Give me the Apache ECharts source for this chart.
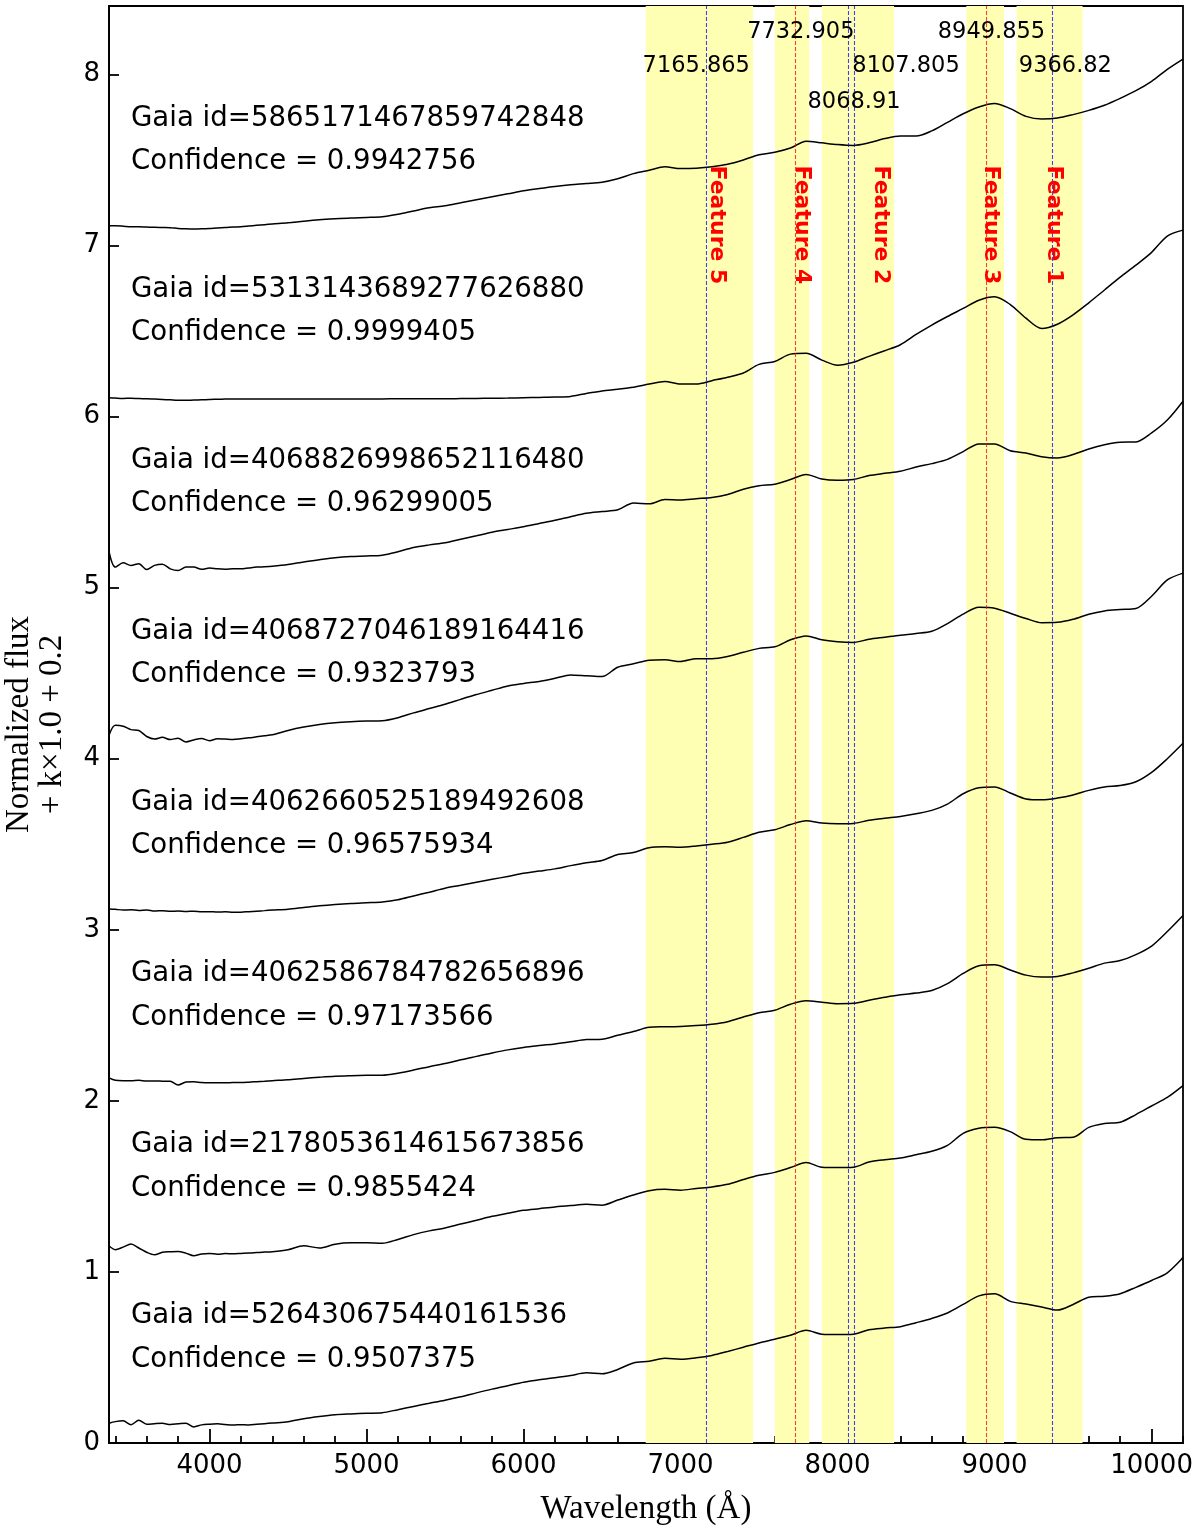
<!DOCTYPE html>
<html>
<head>
<meta charset="utf-8">
<title>Gaia XP spectra</title>
<script src="https://cdn.jsdelivr.net/npm/echarts@6/dist/echarts.min.js"></script>
<style>
  html, body { margin: 0; padding: 0; background: #fff; }
  #chart { width: 1200px; height: 1532px; }
</style>
</head>
<body>
<div id="chart"></div>
<script>
// wavelength grid (Angstrom), shared by all spectra
var waveGrid = [3360, 3400, 3450, 3500, 3550, 3600, 3650, 3700, 3750, 3800, 3850, 3900, 3950,
  4000, 4050, 4100, 4150, 4200, 4250, 4300, 4350, 4400,
  4500, 4600, 4700, 4800, 4900, 5000, 5100, 5200, 5300, 5400,
  5500, 5600, 5700, 5800, 5900, 6000, 6100, 6200, 6300, 6400,
  6500, 6600, 6700, 6800, 6900, 7000, 7100, 7200, 7300, 7400,
  7500, 7600, 7700, 7800, 7900, 8000, 8100, 8200, 8300, 8400,
  8500, 8600, 8700, 8800, 8900, 9000, 9100, 9200, 9300, 9400,
  9500, 9600, 9700, 9800, 9900, 10000, 10100, 10200]

// plotted flux (already offset), bottom spectrum first
var flux0 = [0.115, 0.125, 0.13, 0.107, 0.133, 0.11, 0.113, 0.115, 0.108, 0.112, 0.116, 0.094, 0.106,
  0.11, 0.112, 0.108, 0.105, 0.107, 0.105, 0.109, 0.113, 0.117,
  0.124, 0.142, 0.155, 0.165, 0.17, 0.174, 0.177, 0.195, 0.214, 0.232,
  0.25, 0.27, 0.293, 0.315, 0.335, 0.355, 0.37, 0.382, 0.395, 0.41,
  0.405, 0.43, 0.468, 0.478, 0.495, 0.49, 0.498, 0.512, 0.535, 0.56,
  0.585, 0.607, 0.63, 0.659, 0.636, 0.634, 0.636, 0.662, 0.672, 0.68,
  0.703, 0.728, 0.76, 0.81, 0.86, 0.872, 0.828, 0.812, 0.795, 0.777,
  0.81, 0.852, 0.858, 0.873, 0.91, 0.95, 0.995, 1.084]
var flux1 = [1.153, 1.13, 1.145, 1.163, 1.14, 1.115, 1.10, 1.115, 1.118, 1.12, 1.11, 1.095, 1.105,
  1.108, 1.104, 1.107, 1.106, 1.108, 1.11, 1.113, 1.116, 1.118,
  1.13, 1.153, 1.14, 1.162, 1.17, 1.17, 1.168, 1.19, 1.218, 1.24,
  1.257, 1.28, 1.302, 1.325, 1.343, 1.36, 1.37, 1.38, 1.388, 1.395,
  1.39, 1.42, 1.45, 1.475, 1.483, 1.478, 1.488, 1.497, 1.512, 1.54,
  1.565, 1.582, 1.61, 1.64, 1.612, 1.61, 1.612, 1.642, 1.656, 1.666,
  1.685, 1.705, 1.74, 1.81, 1.84, 1.845, 1.82, 1.775, 1.772, 1.785,
  1.787, 1.845, 1.868, 1.875, 1.92, 1.97, 2.02, 2.089]
var flux2 = [2.134, 2.12, 2.118, 2.118, 2.12, 2.116, 2.116, 2.115, 2.114, 2.093, 2.11, 2.112, 2.107,
  2.106, 2.106, 2.106, 2.107, 2.107, 2.109, 2.112, 2.115, 2.118,
  2.123, 2.131, 2.138, 2.144, 2.147, 2.149, 2.15, 2.162, 2.18, 2.2,
  2.218, 2.24, 2.26, 2.28, 2.298, 2.312, 2.323, 2.333, 2.345, 2.358,
  2.36, 2.383, 2.405, 2.43, 2.433, 2.435, 2.44, 2.448, 2.463, 2.49,
  2.515, 2.53, 2.565, 2.585, 2.577, 2.568, 2.57, 2.588, 2.605, 2.62,
  2.63, 2.645, 2.685, 2.745, 2.79, 2.795, 2.765, 2.735, 2.724, 2.727,
  2.748, 2.775, 2.805, 2.82, 2.855, 2.905, 2.99, 3.084]
var flux3 = [3.122, 3.12, 3.115, 3.117, 3.113, 3.116, 3.11, 3.112, 3.108, 3.11, 3.107, 3.109, 3.105,
  3.106, 3.104, 3.105, 3.103, 3.103, 3.106, 3.109, 3.112, 3.115,
  3.12, 3.13, 3.14, 3.148, 3.154, 3.158, 3.162, 3.175, 3.198, 3.22,
  3.243, 3.26, 3.278, 3.295, 3.312, 3.33, 3.343, 3.356, 3.375, 3.392,
  3.405, 3.44, 3.452, 3.48, 3.485, 3.483, 3.49, 3.50, 3.512, 3.54,
  3.57, 3.585, 3.615, 3.638, 3.624, 3.62, 3.622, 3.64, 3.652, 3.662,
  3.678, 3.698, 3.735, 3.795, 3.83, 3.835, 3.80, 3.765, 3.76, 3.77,
  3.788, 3.815, 3.835, 3.843, 3.865, 3.92, 4.00, 4.09]
var flux4 = [4.137, 4.195, 4.19, 4.17, 4.165, 4.13, 4.115, 4.125, 4.112, 4.12, 4.098, 4.11, 4.118,
  4.105, 4.117, 4.115, 4.113, 4.117, 4.122, 4.128, 4.134, 4.14,
  4.165, 4.185, 4.2, 4.21, 4.216, 4.22, 4.222, 4.24, 4.268, 4.293,
  4.318, 4.347, 4.375, 4.40, 4.425, 4.44, 4.452, 4.47, 4.49, 4.485,
  4.48, 4.535, 4.555, 4.575, 4.578, 4.568, 4.585, 4.585, 4.598, 4.622,
  4.645, 4.654, 4.695, 4.718, 4.695, 4.684, 4.68, 4.698, 4.71, 4.722,
  4.732, 4.745, 4.79, 4.845, 4.885, 4.88, 4.85, 4.82, 4.795, 4.797,
  4.815, 4.845, 4.864, 4.872, 4.878, 4.95, 5.045, 5.085]
var flux5 = [5.21, 5.12, 5.145, 5.13, 5.14, 5.106, 5.13, 5.137, 5.11, 5.10, 5.12, 5.12, 5.107,
  5.115, 5.11, 5.108, 5.11, 5.11, 5.115, 5.12, 5.122, 5.125,
  5.135, 5.15, 5.163, 5.175, 5.182, 5.185, 5.19, 5.21, 5.235, 5.25,
  5.262, 5.283, 5.303, 5.324, 5.34, 5.356, 5.375, 5.394, 5.415, 5.435,
  5.445, 5.455, 5.495, 5.49, 5.515, 5.512, 5.52, 5.527, 5.545, 5.575,
  5.595, 5.605, 5.632, 5.662, 5.635, 5.628, 5.632, 5.655, 5.668, 5.68,
  5.705, 5.725, 5.75, 5.795, 5.84, 5.84, 5.80, 5.787, 5.765, 5.758,
  5.778, 5.81, 5.835, 5.85, 5.852, 5.905, 5.98, 6.09]
var flux6 = [6.11, 6.108, 6.106, 6.107, 6.105, 6.104, 6.102, 6.10, 6.098, 6.096, 6.095, 6.097, 6.098,
  6.10, 6.101, 6.102, 6.103, 6.103, 6.103, 6.103, 6.103, 6.103,
  6.103, 6.103, 6.103, 6.103, 6.103, 6.103, 6.103, 6.104, 6.104, 6.104,
  6.104, 6.105, 6.106, 6.107, 6.108, 6.11, 6.112, 6.114, 6.118, 6.135,
  6.15, 6.16, 6.172, 6.19, 6.205, 6.19, 6.19, 6.21, 6.23, 6.255,
  6.305, 6.322, 6.365, 6.37, 6.33, 6.30, 6.317, 6.352, 6.385, 6.42,
  6.48, 6.535, 6.585, 6.632, 6.68, 6.70, 6.655, 6.575, 6.515, 6.54,
  6.595, 6.665, 6.74, 6.815, 6.885, 6.96, 7.055, 7.09]
var flux7 = [7.115, 7.115, 7.113, 7.11, 7.11, 7.108, 7.106, 7.105, 7.104, 7.10, 7.098, 7.097, 7.098,
  7.10, 7.103, 7.105, 7.108, 7.11, 7.114, 7.118, 7.122, 7.126,
  7.133, 7.142, 7.15, 7.156, 7.161, 7.164, 7.168, 7.183, 7.202, 7.22,
  7.232, 7.25, 7.268, 7.285, 7.302, 7.32, 7.333, 7.345, 7.355, 7.362,
  7.37, 7.39, 7.42, 7.44, 7.46, 7.45, 7.452, 7.46, 7.475, 7.50,
  7.53, 7.545, 7.57, 7.61, 7.60, 7.59, 7.585, 7.60, 7.625, 7.64,
  7.64, 7.67, 7.72, 7.77, 7.81, 7.83, 7.80, 7.755, 7.74, 7.745,
  7.765, 7.79, 7.82, 7.86, 7.905, 7.96, 8.03, 8.09]

var gaiaIds = ['526430675440161536', '2178053614615673856', '4062586784782656896', '4062660525189492608',
  '4068727046189164416', '4068826998652116480', '5313143689277626880', '5865171467859742848']
var confidences = ['0.9507375', '0.9855424', '0.97173566', '0.96575934',
  '0.9323793', '0.96299005', '0.9999405', '0.9942756']

var featureBands = [[6778, 7462], [7600, 7820], [7900, 8360], [8820, 9060], [9140, 9560]]
var featureNames = ['Feature 5', 'Feature 4', 'Feature 2', 'Feature 3', 'Feature 1']
var blueLines = [7165.865, 8068.91, 8107.805, 9366.82]
var redLines = [7732.905, 8949.855]

var xMajorTicks = [4000, 5000, 6000, 7000, 8000, 9000, 10000]
var xMinorTicks = [3400, 3600, 3800, 4200, 4400, 4600, 4800, 5200, 5400, 5600, 5800, 6200, 6400, 6600, 6800,
  7200, 7400, 7600, 7800, 8200, 8400, 8600, 8800, 9200, 9400, 9600, 9800, 10200]
var yTicks = [0, 1, 2, 3, 4, 5, 6, 7, 8]

var fluxes = [flux0, flux1, flux2, flux3, flux4, flux5, flux6, flux7]

// where the annotations sit (data coords)
var featureLabelX = [7232, 7771, 8275, 8978, 9378]
var waveLabelPos = {
  '7165.865': [7100, 8.05], '8068.91': [8105, 7.84], '8107.805': [8436, 8.05],
  '9366.82': [9451, 8.05], '7732.905': [7766, 8.245], '8949.855': [8980, 8.245]
}

function pairs(ys) {
  return waveGrid.map(function (w, i) { return [w, ys[i]] })
}

function textSeries(points, texts, style, rotation) {
  return {
    type: 'custom', coordinateSystem: 'cartesian2d', silent: true, clip: false, z: 10,
    data: points,
    renderItem: function (params, api) {
      var p = api.coord([api.value(0), api.value(1)])
      return {
        type: 'text', x: p[0], y: p[1], rotation: rotation || 0,
        style: Object.assign({text: texts[params.dataIndex]}, style)
      }
    }
  }
}

function vlineSeries(waves, color) {
  return {
    type: 'line', data: [], silent: true, z: 2,
    markLine: {
      silent: true, symbol: ['none', 'none'], animation: false,
      label: {show: false},
      lineStyle: {type: [4, 2], width: 1.1, color: color, opacity: 0.75},
      data: waves.map(function (w) { return {xAxis: w} })
    }
  }
}

var chart = echarts.init(document.getElementById('chart'), null, {renderer: 'canvas'})

var series = []

// yellow feature bands
series.push({
  type: 'line', data: [], silent: true, z: 1,
  markArea: {
    silent: true,
    itemStyle: {color: '#ffffb3', opacity: 1},
    data: featureBands.map(function (b) { return [{xAxis: b[0]}, {xAxis: b[1]}] })
  }
})

series.push(vlineSeries(blueLines, '#0000ff'))
series.push(vlineSeries(redLines, '#ff0000'))

fluxes.forEach(function (f) {
  series.push({
    type: 'line', data: pairs(f), symbol: 'none', smooth: 0.3, z: 3, silent: true,
    lineStyle: {color: '#000', width: 1.5}
  })
})

var labelFont = {fill: '#000', fontSize: 27.6, fontFamily: 'DejaVu Sans', align: 'left', verticalAlign: 'middle'}
series.push(textSeries(gaiaIds.map(function (id, k) { return [3500, k + 0.741] }),
  gaiaIds.map(function (id) { return 'Gaia id=' + id }), labelFont))
series.push(textSeries(confidences.map(function (c, k) { return [3500, k + 0.488] }),
  confidences.map(function (c) { return 'Confidence = ' + c }), labelFont))

var waveList = blueLines.concat(redLines)
series.push(textSeries(waveList.map(function (w) { return waveLabelPos[String(w)] }),
  waveList.map(function (w) { return String(w) }),
  {fill: '#000', fontSize: 22.5, fontFamily: 'DejaVu Sans', align: 'center', verticalAlign: 'middle'}))

series.push(textSeries(featureLabelX.map(function (x) { return [x, 7.12] }), featureNames,
  {fill: '#ff0000', fontSize: 22, fontWeight: 'bold', fontFamily: 'DejaVu Sans', align: 'center', verticalAlign: 'middle'},
  -Math.PI / 2))

var axisBlack = {color: '#000', width: 1.8}

var option = {
  animation: false,
  backgroundColor: '#fff',
  grid: {
    left: 109, right: 17, top: 6, bottom: 89,
    show: true, borderColor: '#000', borderWidth: 1.8,
    outerBoundsMode: 'none'
  },
  xAxis: [{
    type: 'value', min: 3360, max: 10200, position: 'bottom',
    axisLine: {show: true, lineStyle: axisBlack},
    axisTick: {show: true, inside: true, length: 14, customValues: xMajorTicks, lineStyle: axisBlack},
    axisLabel: {
      customValues: xMajorTicks, color: '#000', fontSize: 26, fontFamily: 'DejaVu Sans', margin: 10,
      formatter: function (v) { return String(v) }
    },
    splitLine: {show: false},
    name: 'Wavelength (Å)', nameLocation: 'middle', nameGap: 50,
    nameTextStyle: {fontFamily: 'Liberation Serif', fontSize: 33, color: '#000'}
  }, {
    type: 'value', min: 3360, max: 10200, position: 'bottom',
    axisLine: {show: false},
    axisTick: {show: true, inside: true, length: 7, customValues: xMinorTicks, lineStyle: axisBlack},
    axisLabel: {show: false},
    splitLine: {show: false}
  }],
  yAxis: {
    type: 'value', min: 0, max: 8.4,
    axisLine: {show: true, lineStyle: axisBlack},
    axisTick: {show: true, inside: true, length: 10, customValues: yTicks, lineStyle: axisBlack},
    axisLabel: {customValues: yTicks, color: '#000', fontSize: 26, fontFamily: 'DejaVu Sans', margin: 9},
    splitLine: {show: false},
    name: 'Normalized flux\n+ k×1.0 + 0.2', nameLocation: 'middle', nameGap: 40,
    nameTextStyle: {fontFamily: 'Liberation Serif', fontSize: 33, color: '#000', lineHeight: 33}
  },
  series: series
}

chart.setOption(option)
window.addEventListener('resize', chart.resize)
</script>
</body>
</html>
